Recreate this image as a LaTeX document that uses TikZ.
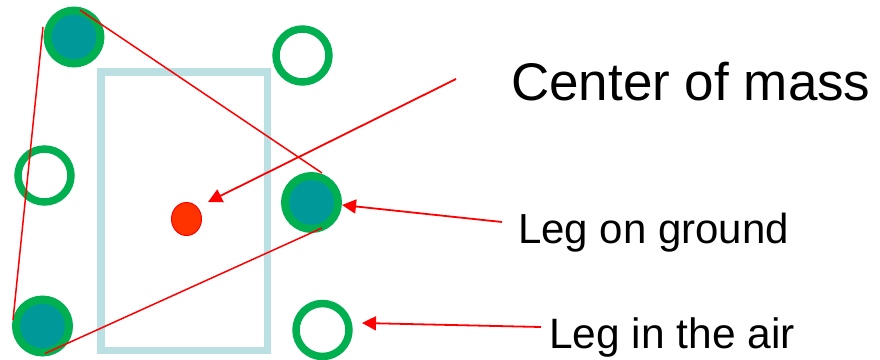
\documentclass[tikz,border=0pt]{standalone}
\usepackage{fontspec}
\setmainfont{Liberation Sans}
\usetikzlibrary{arrows.meta,shapes.geometric}
\definecolor{ringgreen}{HTML}{00B050}
\definecolor{legteal}{HTML}{009999}
\definecolor{bodyblue}{HTML}{BBE0E3}
\definecolor{dotred}{HTML}{FF3300}
\tikzset{
  groundleg/.style={circle, draw=ringgreen, line width=8pt, fill=legteal, minimum size=53pt, inner sep=0pt},
  airleg/.style={circle, draw=ringgreen, line width=7.5pt, minimum size=53pt, inner sep=0pt},
  support/.style={draw=red, line width=1.5pt},
  pointer/.style={draw=red, line width=1.8pt, -{Triangle[length=14pt,width=14pt]}},
  label/.style={anchor=base west, inner sep=0pt, text=black}
}
\begin{document}
\begin{tikzpicture}[x=1pt,y=-1pt]
\useasboundingbox (0,0) rectangle (880,359);
% body
\draw[bodyblue, line width=7.5pt] (101,72) rectangle (267.5,350.5);
% center of mass
\node[ellipse, draw=red, line width=1pt, fill=dotred, minimum width=30pt, minimum height=33pt, inner sep=0pt] (com) at (186.5,219) {};
% legs
\node[groundleg] (g1) at (74,37) {};
\node[groundleg] (g2) at (311.5,202.5) {};
\node[groundleg] (g3) at (42.5,326) {};
\node[airleg] (a1) at (302.5,55.5) {};
\node[airleg] (a2) at (44.5,175.5) {};
\node[airleg] (a3) at (322.5,330) {};
% support triangle
\coordinate (t1) at (43,27);
\coordinate (t2) at (13,320);
\coordinate (t3) at (80,10);
\coordinate (t4) at (322,173);
\coordinate (t5) at (45,353.5);
\coordinate (t6) at (322,228);
\draw[support] (t1) -- (t2);
\draw[support] (t3) -- (t4);
\draw[support] (t5) -- (t6);
% labels
\node[label, font=\fontsize{53}{62}\selectfont] (lcom) at (511,100) {Center of mass};
\node[label, font=\fontsize{42}{50}\selectfont] (lground) at (518,243) {Leg on ground};
\node[label, font=\fontsize{42.5}{50}\selectfont] (lair) at (549,348) {Leg in the air};
% pointers
\coordinate (p1) at (456,79);
\coordinate (p1e) at (208,202);
\coordinate (p2) at (502,222);
\coordinate (p2e) at (342,205);
\coordinate (p3) at (541,327);
\coordinate (p3e) at (362,323);
\draw[pointer] (p1) -- (p1e);
\draw[pointer] (p2) -- (p2e);
\draw[pointer] (p3) -- (p3e);
\end{tikzpicture}
\end{document}
